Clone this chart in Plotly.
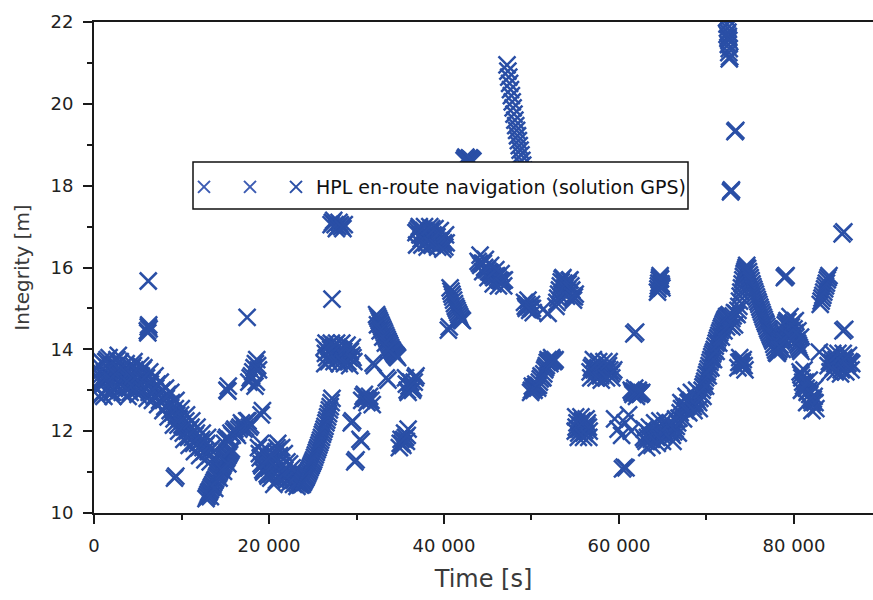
import plotly.graph_objects as go

# HPL samples as (time [s], protection level [m]) pairs, grouped by visible pass/cluster
seg01 = [(300, 13.05), (450, 13.3), (600, 13.6), (750, 13.2), (900, 12.9), (1050, 13.15), (1200, 13.45),
         (1350, 13.7), (1500, 13.75), (1650, 13.4), (1800, 13.1), (1950, 12.95), (2100, 12.95), (2250, 13.3),
         (2400, 13.6), (2550, 13.5), (2700, 13.35), (2850, 13.65), (3000, 13.7), (3150, 13.45), (3300, 13.2),
         (3450, 13.35), (3600, 13.5), (3750, 13.1), (3900, 12.85), (4050, 13.05), (4200, 13.3), (4350, 13.55),
         (4500, 13.6), (4650, 13.5), (4800, 13.4), (4950, 13.2), (5100, 13.05), (5250, 13.2), (5400, 13.35),
         (5550, 13.5), (5700, 13.55)]
seg01b = [(375, 13.4), (525, 12.85), (675, 13.45), (825, 13.7), (975, 13.3), (1125, 12.85), (1275, 13.0),
          (1425, 13.3), (1575, 13.55), (1725, 13.8), (1875, 13.6), (2025, 13.25), (2175, 12.85), (2325, 13.05),
          (2475, 13.4), (2625, 13.75), (2775, 13.85), (2925, 13.5), (3075, 13.15), (3225, 12.95), (3375, 13.1),
          (3525, 13.25), (3675, 13.65), (3825, 13.4), (3975, 13.15), (4125, 12.95), (4275, 13.1), (4425, 13.35),
          (4575, 13.7), (4725, 13.3), (4875, 13.0), (5025, 12.9), (5175, 13.4), (5325, 13.6), (5475, 13.25),
          (5625, 13.0)]
seg02 = [(6100, 14.45), (6150, 14.4), (6200, 14.55), (6250, 14.6), (6300, 14.5), (6200, 15.67)]
seg03 = [(6000, 13.3), (6150, 13.1), (6300, 12.95), (6450, 13.15), (6600, 13.25), (6750, 13.0), (6900, 12.85),
         (7050, 13.05), (7200, 13.15), (7350, 12.9), (7500, 12.75), (7650, 12.95), (7800, 13.0), (7950, 12.75),
         (8100, 12.6), (8250, 12.8), (8400, 12.9), (8550, 12.65), (8700, 12.5), (8850, 12.7), (9000, 12.45),
         (9150, 12.3), (9300, 12.55), (9450, 12.4), (9600, 12.15), (9750, 12.3), (9900, 12.4), (10050, 12.15),
         (10200, 11.95), (10350, 12.1), (10500, 12.25), (10650, 12.0), (10800, 11.85), (10950, 12.05),
         (11100, 12.1), (11250, 11.85), (11400, 11.7), (11550, 11.9), (11700, 11.95), (11850, 11.7),
         (12000, 11.6), (12150, 11.75), (12300, 11.8), (12450, 11.6), (12600, 11.5), (12750, 11.65),
         (12900, 11.7), (13050, 11.5), (13200, 11.4), (13350, 11.55), (13500, 11.6)]
seg03b = [(6075, 12.8), (6375, 13.45), (6675, 12.75), (6975, 13.35), (7275, 12.65), (7575, 13.2), (7875, 12.5),
          (8175, 13.05), (8475, 12.35), (8775, 12.95), (9075, 12.15), (9375, 12.75), (9675, 12.0), (9975, 12.55),
          (10275, 11.8), (10575, 12.4), (10875, 11.65), (11175, 12.25), (11475, 11.5), (11775, 12.1),
          (12075, 11.4), (12375, 11.95), (12675, 11.3), (12975, 11.85), (13275, 11.25)]
seg04 = [(9200, 10.85), (9350, 10.9)]
seg05 = [(12800, 10.35), (12900, 10.4), (13000, 10.45), (13100, 10.5), (13200, 10.53), (13300, 10.57),
         (13400, 10.62), (13500, 10.66), (13600, 10.7), (13700, 10.75), (13800, 10.79), (13900, 10.83),
         (14000, 10.88), (14100, 10.92), (14200, 10.96), (14300, 11.0), (14400, 11.05), (14500, 11.08),
         (14600, 11.12), (14700, 11.16), (14800, 11.2), (14900, 11.25), (15000, 11.28), (15100, 11.32),
         (15200, 11.36), (15300, 11.4), (15400, 11.44), (15500, 11.48), (15600, 11.52), (15700, 11.56),
         (13300, 10.4), (13800, 10.6), (14300, 10.85), (14800, 11.02), (15300, 11.2)]
seg06 = [(14900, 11.7), (15050, 11.8), (15200, 11.85), (15350, 11.75), (15500, 11.8), (15650, 11.95),
         (15800, 11.9), (15950, 12.0), (16100, 12.05), (16250, 11.95), (16400, 11.9), (16550, 12.05),
         (16700, 12.1), (16850, 12.2), (17000, 12.15), (17150, 12.05), (17300, 12.1), (17450, 12.25),
         (17600, 12.25), (17750, 12.1), (17900, 12.15)]
seg07 = [(15200, 13.0), (15350, 13.1), (15300, 12.98), (17700, 13.2), (17850, 13.3), (18000, 13.35),
         (18150, 13.45), (18300, 13.55), (18450, 13.65), (18600, 13.75), (18700, 13.6), (18800, 13.5),
         (18400, 13.1), (18550, 13.2), (17500, 14.78), (19100, 12.4), (19250, 12.5)]
seg08 = [(18800, 11.6), (18900, 11.45), (19000, 11.35), (19100, 11.2), (19200, 11.15), (19300, 11.05),
         (19400, 11.0), (19500, 11.1), (19600, 11.25), (19700, 11.1), (19800, 10.95), (19900, 10.9),
         (20000, 11.1), (20100, 11.2), (20200, 10.85), (20300, 10.95), (20400, 11.05), (20500, 11.2),
         (20600, 11.3), (20700, 11.4), (20800, 11.5), (20900, 11.6), (21000, 11.7), (21100, 11.55),
         (21200, 11.4), (21300, 11.25), (21400, 11.15), (21500, 11.0), (21600, 10.9), (21700, 11.0),
         (21800, 11.05), (21900, 10.9), (22000, 10.8), (22100, 10.9), (22200, 10.95), (22300, 10.85),
         (22400, 10.75), (22500, 10.85), (22600, 10.9), (22700, 10.8), (22800, 10.7), (22900, 10.8),
         (23000, 10.85), (23100, 10.75), (23200, 10.65), (23300, 10.72), (23400, 10.8), (23500, 10.7),
         (23600, 10.68), (23700, 10.7)]
seg08b = [(19050, 11.7), (19350, 11.5), (19650, 11.45), (19950, 11.3), (20250, 11.4), (20550, 10.7),
          (20850, 10.8), (21150, 10.85), (21450, 11.6), (21750, 11.45), (22050, 11.25), (22350, 11.2),
          (22650, 11.1), (22950, 11.05), (23250, 10.95)]
seg09 = [(23800, 10.7), (23900, 10.74), (24000, 10.78), (24100, 10.82), (24200, 10.86), (24300, 10.9),
         (24400, 10.95), (24500, 11.0), (24600, 11.05), (24700, 11.1), (24800, 11.15), (24900, 11.2),
         (25000, 11.25), (25100, 11.3), (25200, 11.36), (25300, 11.42), (25400, 11.48), (25500, 11.54),
         (25600, 11.6), (25700, 11.66), (25800, 11.72), (25900, 11.78), (26000, 11.85), (26100, 11.92),
         (26200, 11.98), (26300, 12.05), (26400, 12.12), (26500, 12.2), (26600, 12.27), (26700, 12.35),
         (26800, 12.43), (26900, 12.52), (27000, 12.6), (27100, 12.7), (27200, 12.8)]
seg10 = [(26300, 14.05), (26450, 13.9), (26600, 13.8), (26750, 13.95), (26900, 14.1), (27050, 14.0),
         (27200, 13.9), (27350, 14.05), (27500, 14.1), (27650, 13.85), (27800, 13.75), (27950, 13.9),
         (28100, 14.0), (28250, 13.95), (28400, 13.85), (28550, 13.95), (28700, 14.05), (28850, 13.85),
         (29000, 13.7), (29150, 13.8), (29300, 13.95), (29450, 13.85), (29600, 13.8)]
seg10b = [(26375, 13.65), (26525, 14.15), (26825, 13.7), (27125, 14.15), (27425, 13.7), (27725, 14.15),
          (28025, 13.65), (28325, 14.15), (28625, 13.65), (28925, 14.1), (29225, 13.6), (29525, 14.05),
          (29700, 13.7)]
seg11 = [(27100, 17.05), (27250, 17.1), (27400, 17.15), (27550, 17.05), (27700, 16.95), (27850, 17.0),
         (28000, 17.1), (28150, 17.05), (28300, 17.0), (28450, 16.95), (28600, 17.05), (27200, 15.23)]
seg12 = [(29400, 12.2), (29550, 12.25), (30400, 11.8), (30550, 11.75), (29800, 11.25), (29950, 11.3),
         (30600, 12.75), (30750, 12.85), (30900, 12.9), (31050, 12.8), (31200, 12.7), (31350, 12.75),
         (31500, 12.85), (31650, 12.75), (31800, 12.65)]
seg13 = [(32300, 14.85), (32400, 14.8), (32500, 14.75), (32600, 14.7), (32700, 14.65), (32800, 14.6),
         (32900, 14.55), (33000, 14.5), (33100, 14.45), (33200, 14.4), (33300, 14.35), (33400, 14.3),
         (33500, 14.25), (33600, 14.2), (33700, 14.15), (33800, 14.1), (33900, 14.05), (34000, 14.0),
         (34100, 13.97), (34200, 13.93), (34300, 13.9), (34400, 13.87), (34500, 13.85), (34600, 13.82),
         (34700, 13.8), (32400, 14.6), (32700, 14.45), (33000, 14.3), (33300, 14.15), (33600, 14.0),
         (31900, 13.66), (32050, 13.6), (33400, 13.3), (33600, 13.25)]
seg14 = [(35600, 13.3), (35700, 13.15), (35800, 13.0), (35900, 12.95), (36000, 13.1), (36100, 13.2),
         (36200, 13.2), (36300, 13.1), (36400, 13.0), (36500, 13.05), (36600, 13.2), (36700, 13.3),
         (36800, 13.35)]
seg15 = [(34900, 11.6), (35000, 11.7), (35100, 11.8), (35200, 11.7), (35300, 11.65), (35400, 11.8),
         (35500, 11.95), (35600, 11.85), (35700, 11.75), (35800, 11.9), (35900, 12.05)]
seg16 = [(36800, 16.85), (36950, 16.9), (37100, 16.95), (37250, 16.8), (37400, 16.7), (37550, 16.8),
         (37700, 16.9), (37850, 16.75), (38000, 16.6), (38150, 16.7), (38300, 16.8), (38450, 16.9),
         (38600, 16.95), (38750, 16.8), (38900, 16.65), (39050, 16.7), (39200, 16.75), (39350, 16.65),
         (39500, 16.55), (39650, 16.65), (39800, 16.7), (39950, 16.6), (40100, 16.5), (40250, 16.6)]
seg16b = [(36875, 16.55), (37175, 17.0), (37475, 16.55), (37775, 17.0), (38075, 16.5), (38375, 17.0),
          (38675, 16.55), (38975, 16.95), (39275, 16.5), (39575, 16.9), (39875, 16.45), (40175, 16.8)]
seg17 = [(40500, 14.47), (40600, 14.55), (40700, 15.5), (40800, 15.42), (40900, 15.35), (41000, 15.28),
         (41100, 15.2), (41200, 15.12), (41300, 15.05), (41400, 15.0), (41500, 14.95), (41600, 14.9),
         (41700, 14.85), (41800, 14.8), (41900, 14.75), (42000, 14.72), (42100, 14.7)]
seg18 = [(42300, 18.62), (42400, 18.66), (42500, 18.7), (42600, 18.65), (42700, 18.6), (42800, 18.64),
         (42900, 18.68), (43000, 18.66), (43100, 18.64), (43200, 18.62), (43300, 18.6)]
seg19 = [(43900, 16.15), (44050, 16.1), (44200, 16.05), (44350, 16.1), (44500, 16.1), (44650, 16.0),
         (44800, 15.95), (44950, 15.95), (45100, 15.9), (45250, 15.88), (45400, 15.85), (45550, 15.8),
         (45700, 15.75), (45850, 15.78), (46000, 15.8), (46150, 15.75), (46300, 15.7), (46450, 15.68),
         (46600, 15.65), (46750, 15.68), (46900, 15.7)]
seg19b = [(44125, 16.3), (44425, 15.9), (44725, 16.2), (45025, 15.75), (45325, 16.05), (45625, 15.6),
          (45925, 15.95), (46225, 15.55), (46525, 15.85), (46825, 15.55)]
seg20 = [(47200, 20.95), (47300, 20.8), (47400, 20.65), (47500, 20.5), (47600, 20.35), (47700, 20.2),
         (47800, 20.05), (47900, 19.9), (48000, 19.75), (48100, 19.6), (48200, 19.47), (48300, 19.35),
         (48400, 19.22), (48500, 19.1), (48600, 18.98), (48700, 18.87), (48800, 18.75), (48900, 18.62),
         (49000, 18.5), (49100, 18.38)]
seg21 = [(49200, 15.15), (49300, 15.05), (49400, 15.0), (49500, 15.1), (49600, 15.2), (49700, 15.05),
         (49800, 14.95), (49900, 15.0), (50000, 15.1), (50100, 15.0), (50200, 14.9), (51300, 14.97),
         (51900, 14.88)]
seg22 = [(52800, 15.05), (52900, 15.15), (53000, 15.25), (53100, 15.35), (53200, 15.45), (53300, 15.55),
         (53400, 15.65), (53500, 15.72), (53600, 15.75), (53700, 15.62), (53800, 15.5), (53900, 15.4),
         (54000, 15.3), (54100, 15.45), (54200, 15.6), (54300, 15.68), (54400, 15.7), (54500, 15.55),
         (54600, 15.45), (54700, 15.3), (54800, 15.2), (54900, 15.28), (55000, 15.35)]
seg23 = [(49900, 12.95), (50000, 13.0), (50100, 13.1), (50200, 13.05), (50300, 13.0), (50400, 13.08),
         (50500, 13.15), (50600, 13.1), (50700, 13.05), (50800, 13.12), (50900, 13.2), (51000, 13.28),
         (51100, 13.35), (51200, 13.32), (51300, 13.3), (51400, 13.4), (51500, 13.5), (51600, 13.55),
         (51700, 13.6), (51800, 13.68), (51900, 13.75), (52000, 13.7), (52100, 13.65), (52200, 13.72),
         (52300, 13.8), (52400, 13.75), (52500, 13.7), (52600, 13.72), (52700, 13.75)]
seg24 = [(56700, 13.45), (56850, 13.55), (57000, 13.6), (57150, 13.5), (57300, 13.4), (57450, 13.48),
         (57600, 13.55), (57750, 13.45), (57900, 13.35), (58050, 13.42), (58200, 13.5), (58350, 13.48),
         (58500, 13.45), (58650, 13.52), (58800, 13.6), (58950, 13.5), (59100, 13.4), (59250, 13.45),
         (59400, 13.5), (61400, 13.0), (61500, 12.95), (61600, 12.9), (61700, 12.98), (61800, 13.05),
         (61900, 12.95), (62000, 12.85), (62100, 12.92), (62200, 13.0), (62300, 12.95), (62400, 12.9),
         (62500, 12.92), (62600, 12.95), (61700, 14.38), (61900, 14.42)]
seg24b = [(56775, 13.3), (57075, 13.75), (57375, 13.3), (57675, 13.7), (57975, 13.25), (58275, 13.7),
          (58575, 13.3), (58875, 13.7), (59175, 13.3)]
seg25 = [(55000, 12.0), (55100, 12.1), (55200, 12.2), (55300, 12.05), (55400, 11.95), (55500, 12.05),
         (55600, 12.15), (55700, 12.22), (55800, 12.25), (55900, 12.1), (56000, 11.95), (56100, 12.02),
         (56200, 12.1), (56300, 12.15), (56400, 12.2), (56500, 12.1), (56600, 12.0), (55050, 12.35),
         (55350, 11.85), (55650, 12.35), (55950, 11.85), (56250, 12.3), (56550, 11.85)]
seg26 = [(59500, 12.3), (59900, 12.05), (60300, 11.9), (60700, 12.2), (61100, 12.4), (61400, 12.0),
         (60400, 11.08), (60600, 11.12), (60800, 11.1)]
seg27 = [(62800, 11.85), (62950, 11.8), (63100, 11.75), (63250, 11.85), (63400, 11.95), (63550, 11.88),
         (63700, 11.8), (63850, 11.9), (64000, 12.0), (64150, 11.92), (64300, 11.85), (64450, 11.98),
         (64600, 12.1), (64750, 12.0), (64900, 11.9), (65050, 11.95), (65200, 12.0), (65350, 12.08),
         (65500, 12.15), (62875, 12.05), (63175, 11.6), (63475, 12.1), (63775, 11.65), (64075, 12.2),
         (64375, 11.7), (64675, 12.25), (64975, 11.75), (65275, 12.25)]
seg28 = [(64400, 15.4), (64450, 15.48), (64500, 15.55), (64550, 15.62), (64600, 15.7), (64650, 15.75),
         (64700, 15.8), (64750, 15.72), (64800, 15.6), (64850, 15.55), (64900, 15.5)]
seg29 = [(65800, 12.0), (65950, 11.95), (66100, 11.9), (66250, 11.98), (66400, 12.05), (66550, 12.12),
         (66700, 12.2), (66850, 12.32), (67000, 12.45), (67150, 12.55), (67300, 12.65), (67450, 12.58),
         (67600, 12.5), (67750, 12.6), (67900, 12.7), (68050, 12.72), (68200, 12.75), (68350, 12.68),
         (68500, 12.6), (68650, 12.7), (68800, 12.8), (68950, 12.75), (69100, 12.7), (69250, 12.8),
         (69400, 12.9), (65875, 12.2), (66175, 11.75), (66475, 12.3), (66775, 11.95), (67075, 12.7),
         (67375, 12.3), (67675, 12.85), (67975, 12.45), (68275, 12.95), (68575, 12.5), (68875, 13.0),
         (69175, 12.55)]
seg30 = [(69500, 13.0), (69600, 13.08), (69700, 13.15), (69800, 13.22), (69900, 13.3), (70000, 13.38),
         (70100, 13.45), (70200, 13.52), (70300, 13.6), (70400, 13.68), (70500, 13.75), (70600, 13.82),
         (70700, 13.88), (70800, 13.94), (70900, 14.0), (71000, 14.08), (71100, 14.15), (71200, 14.22),
         (71300, 14.28), (71400, 14.34), (71500, 14.4), (71600, 14.46), (71700, 14.52), (71800, 14.57),
         (71900, 14.62), (72000, 14.67), (72100, 14.72), (69600, 12.85), (69900, 13.1), (70200, 13.35),
         (70500, 13.55), (70800, 13.75), (71100, 13.95), (71400, 14.15), (71700, 14.3), (72000, 14.45),
         (72300, 14.55), (72600, 14.6), (72900, 14.55), (73200, 14.6)]
seg31 = [(72200, 14.75), (72300, 14.8), (72450, 14.82), (72600, 14.85), (72750, 14.8), (72900, 14.75),
         (73050, 14.82), (73200, 14.9), (73350, 14.88), (73500, 14.85), (73600, 14.95), (73700, 15.05),
         (73775, 15.18), (73850, 15.3), (73925, 15.4), (74000, 15.5), (74075, 15.6), (74150, 15.7),
         (74225, 15.78), (74300, 15.85), (74375, 15.9), (74450, 15.95), (74525, 16.0), (74600, 16.05)]
seg32 = [(74700, 15.98), (74800, 15.9), (74900, 15.82), (75000, 15.75), (75100, 15.68), (75200, 15.6),
         (75300, 15.53), (75400, 15.47), (75500, 15.41), (75600, 15.35), (75700, 15.28), (75800, 15.22),
         (75900, 15.16), (76000, 15.1), (76100, 15.03), (76200, 14.97), (76300, 14.91), (76400, 14.85),
         (76500, 14.79), (76600, 14.73), (76700, 14.67), (76800, 14.62), (76900, 14.56), (77000, 14.5),
         (77100, 14.45), (77200, 14.4), (77300, 14.35), (77400, 14.3), (77500, 14.25), (77600, 14.2)]
seg33 = [(77700, 14.12), (77800, 14.05), (77900, 13.98), (78000, 13.92), (78100, 13.9), (78200, 13.95),
         (78300, 14.0), (78400, 14.1), (78500, 14.2), (78600, 14.25), (78700, 14.3), (78800, 14.4),
         (78900, 14.5), (79000, 14.6), (79100, 14.65), (79200, 14.7), (79300, 14.68), (79400, 14.55),
         (79500, 14.48), (79600, 14.45), (79700, 14.55), (79800, 14.62), (79900, 14.65), (80000, 14.5),
         (80100, 14.4), (80200, 14.3), (80300, 14.22), (80400, 14.15), (80500, 14.1), (80600, 14.05),
         (80700, 14.0), (80800, 13.95), (78650, 14.0), (78950, 14.2), (79250, 14.35), (79550, 14.8),
         (79850, 14.25), (80150, 14.7), (80450, 14.45), (80750, 14.3)]
seg34 = [(78900, 15.75), (79000, 15.78), (79100, 15.8)]
seg35 = [(80700, 13.45), (80800, 13.38), (80900, 13.3), (81000, 13.2), (81100, 13.1), (81200, 13.15),
         (81300, 13.2), (81400, 13.05), (81500, 12.95), (81600, 12.98), (81700, 13.0), (81800, 12.9),
         (81900, 12.8), (82000, 12.75), (82100, 12.7), (82200, 12.78), (82300, 12.85), (82400, 12.7),
         (82500, 12.55), (80850, 13.0), (81150, 13.5), (81450, 12.7), (81750, 13.25), (82050, 12.5),
         (82350, 13.05)]
seg36 = [(83000, 15.1), (83100, 15.18), (83200, 15.25), (83300, 15.32), (83400, 15.4), (83500, 15.48),
         (83600, 15.55), (83700, 15.62), (83800, 15.7), (83900, 15.75), (84000, 15.8)]
seg37 = [(85500, 16.82), (85700, 16.87), (85600, 14.45), (85800, 14.49), (82900, 13.93)]
seg38 = [(83900, 13.6), (84050, 13.7), (84200, 13.8), (84350, 13.68), (84500, 13.55), (84650, 13.65),
         (84800, 13.75), (84950, 13.7), (85100, 13.65), (85250, 13.58), (85400, 13.5), (85550, 13.65),
         (85700, 13.8), (85850, 13.7), (86000, 13.6), (86150, 13.65), (86300, 13.7), (86450, 13.68),
         (86600, 13.65), (84125, 13.45), (84425, 13.9), (84725, 13.45), (85025, 13.9), (85325, 13.4),
         (85625, 13.9), (85925, 13.45), (86225, 13.85), (86525, 13.5)]
seg39 = [(72300, 22.1), (72350, 21.95), (72400, 21.85), (72450, 21.75), (72500, 21.65), (72550, 21.55),
         (72500, 21.45), (72600, 21.35), (72550, 21.25), (72650, 21.15), (72600, 21.1), (72450, 21.6),
         (72350, 21.7), (73250, 19.32), (73350, 19.35), (72750, 17.85), (72850, 17.9), (72800, 17.87)]
seg40 = [(73600, 13.55), (73700, 13.68), (73800, 13.8), (73900, 13.7), (74000, 13.6), (74100, 13.68),
         (74200, 13.75), (74300, 13.6), (74400, 13.5)]

x_tick_vals = [0, 20000, 40000, 60000, 80000]
x_tick_text = ["0", "20 000", "40 000", "60 000", "80 000"]
x_minor_vals = [10000, 30000, 50000, 70000]
y_tick_vals = [10, 12, 14, 16, 18, 20, 22]
y_minor_vals = [11, 13, 15, 17, 19, 21]

series_name = "HPL en-route navigation (solution GPS)"

segments = [seg01, seg01b, seg02, seg03, seg03b, seg04, seg05, seg06, seg07, seg08, seg08b,
            seg09, seg10, seg10b, seg11, seg12, seg13, seg14, seg15, seg16, seg16b, seg17,
            seg18, seg19, seg19b, seg20, seg21, seg22, seg23, seg24, seg24b, seg25, seg26,
            seg27, seg28, seg29, seg30, seg31, seg32, seg33, seg34, seg35, seg36, seg37,
            seg38, seg39, seg40]
time_s = [t for seg in segments for t, _ in seg]
hpl_m = [v for seg in segments for _, v in seg]

MARK = "#2a4fa6"
marker_style = dict(symbol="x-thin-open", size=17, color=MARK,
                    line=dict(color=MARK, width=2.5))
legend_marker = dict(symbol="x-thin-open", size=16, color="#3d5cb3",
                     line=dict(color="#3d5cb3", width=2))

fig = go.Figure()
# two extra legend swatches so the legend row reads "x x x name"
for _ in range(2):
    fig.add_trace(go.Scatter(x=[None], y=[None], mode="markers", name=" ", legendwidth=1,
                             marker=legend_marker, showlegend=True, hoverinfo="skip"))
fig.add_trace(go.Scatter(x=time_s, y=hpl_m, mode="markers", name=series_name,
                         marker=marker_style))

W, H = 873, 600
L, R, T, B = 94, 0, 22, 87
pw, ph = W - L - R, H - T - B


def px_to_paper_x(px):
    return (px - L) / pw


def px_to_paper_y(py):
    return (H - B - py) / ph


axis_font = dict(family="DejaVu Sans", size=18, color="#222222")
xtitle_font = dict(family="DejaVu Sans", size=24, color="#3a3a3a")
ytitle_font = dict(family="DejaVu Sans", size=20, color="#3a3a3a")

fig.update_layout(
    width=W, height=H,
    margin=dict(l=L, r=R, t=T, b=B, pad=0),
    paper_bgcolor="white", plot_bgcolor="white",
    showlegend=True,
    legend=dict(
        orientation="h", x=px_to_paper_x(184), y=px_to_paper_y(168),
        xanchor="left", yanchor="top",
        bgcolor="rgba(0,0,0,0)", borderwidth=0,
        font=dict(family="DejaVu Sans", size=19, color="#111111"),
        itemsizing="constant", tracegroupgap=0,
    ),
    shapes=[dict(type="rect", xref="paper", yref="paper",
                 x0=px_to_paper_x(193), x1=px_to_paper_x(688),
                 y0=px_to_paper_y(209), y1=px_to_paper_y(162),
                 fillcolor="white", line=dict(color="#111111", width=1.5),
                 layer="above")],
    xaxis=dict(
        range=[0, 89030], showgrid=False, zeroline=False,
        showline=True, linecolor="#1a1a1a", linewidth=2, mirror=True,
        ticks="outside", ticklen=9, tickwidth=2, tickcolor="#1a1a1a",
        tickmode="array", tickvals=x_tick_vals, ticktext=x_tick_text,
        minor=dict(tickmode="array", tickvals=x_minor_vals, ticks="outside",
                   ticklen=5, tickwidth=2, tickcolor="#1a1a1a", showgrid=False),
        tickfont=axis_font, ticklabelstandoff=6,
        title=dict(text="Time [s]", font=xtitle_font, standoff=16),
    ),
    yaxis=dict(
        range=[10, 22], showgrid=False, zeroline=False,
        showline=True, linecolor="#1a1a1a", linewidth=2, mirror=False,
        ticks="outside", ticklen=9, tickwidth=2, tickcolor="#1a1a1a",
        tickmode="array", tickvals=y_tick_vals,
        minor=dict(tickmode="array", tickvals=y_minor_vals, ticks="outside",
                   ticklen=5, tickwidth=2, tickcolor="#1a1a1a", showgrid=False),
        tickfont=axis_font, ticklabelstandoff=6,
        title=dict(text="Integrity [m]", font=ytitle_font, standoff=15),
    ),
)

fig.write_html("out.html")
